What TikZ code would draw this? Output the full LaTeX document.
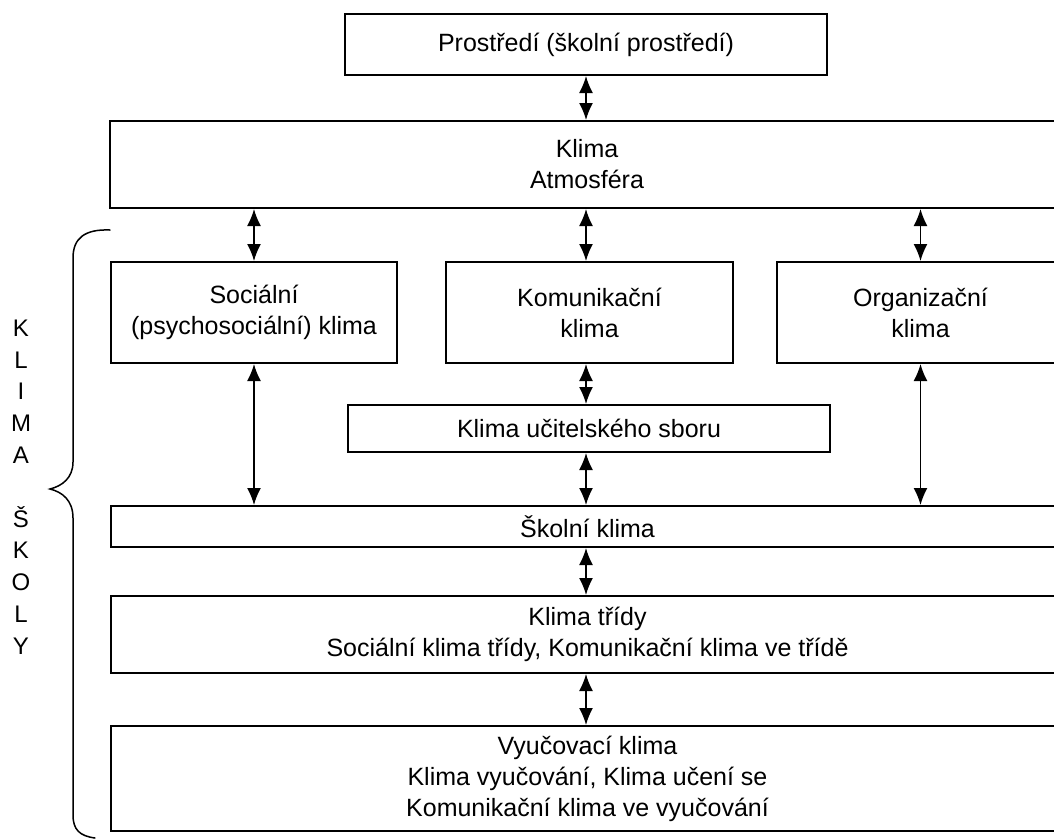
\documentclass[tikz,border=0pt]{standalone}
\usepackage{fontspec}
\setmainfont{Liberation Sans}
\usetikzlibrary{arrows.meta}
\begin{document}
\begin{tikzpicture}[x=1pt,y=-1pt,
  box/.style={draw, line width=2pt, inner sep=0pt, align=center,
    font=\fontsize{25}{31}\selectfont},
  dbl/.style={line width=1.6pt,
    {Latex[length=17pt,width=14pt]}-{Latex[length=17pt,width=14pt]}},
  brace/.style={line width=1.5pt, line cap=round},
  side/.style={align=center, inner sep=0pt, font=\fontsize{24}{31.8}\selectfont}
]
\clip (0,0) rectangle (1054,838);
\fill[white] (0,0) rectangle (1054,838);

% boxes
\node[box, minimum width=482pt, minimum height=61pt] (prostr) at (586,44.5) {Prostředí (školní prostředí)};
\node[box, minimum width=954pt, minimum height=87pt] (klima) at (587,164.5) {Klima\\Atmosféra};
\node[box, minimum width=286pt, minimum height=101pt] (soc) at (254,312.5) {Sociální\\(psychosociální) klima};
\node[box, minimum width=287pt, minimum height=101pt] (kom) at (589.5,312.5) {Komunikační\\klima};
\node[box, minimum width=287pt, minimum height=101pt] (org) at (920.5,312.5) {Organizační\\klima};
\node[box, minimum width=482pt, minimum height=47pt] (sbor) at (589,428.5) {Klima učitelského sboru};
\node[box, minimum width=953pt, minimum height=41pt] (skol) at (587.5,526.5) {Školní klima};
\node[box, minimum width=953pt, minimum height=77pt] (trida) at (587.5,634.5) {Klima třídy\\Sociální klima třídy, Komunikační klima ve třídě};
\node[box, minimum width=953pt, minimum height=105pt] (vyuc) at (587.5,778.5) {Vyučovací klima\\Klima vyučování, Klima učení se\\Komunikační klima ve vyučování};

% connectors
\draw[dbl] (prostr.south) -- (prostr.south |- klima.north);
\draw[dbl] (soc.north |- klima.south) -- (soc.north);
\draw[dbl] (prostr.south |- klima.south) -- (prostr.south |- kom.north);
\draw[dbl] (org.north |- klima.south) -- (org.north);
\draw[dbl] (soc.south) -- (soc.south |- skol.north);
\draw[dbl] (prostr.south |- kom.south) -- (prostr.south |- sbor.north);
\draw[dbl] (prostr.south |- sbor.south) -- (prostr.south |- skol.north);
\draw[dbl] (org.south) -- (org.south |- skol.north);
\draw[dbl] (prostr.south |- skol.south) -- (prostr.south |- trida.north);
\draw[dbl] (prostr.south |- trida.south) -- (prostr.south |- vyuc.north);

% brace
\draw[brace] (110,230) .. controls (85,229) and (73,238) .. (73,258)
  -- (73,462) .. controls (73,478) and (62,486) .. (50,489)
  .. controls (62,492) and (73,500) .. (73,518)
  -- (73,815) .. controls (73,830) and (80,836) .. (95,838);

% side label
\node[side] (kl) at (21,487) {K\\L\\I\\M\\A\\\mbox{}\\Š\\K\\O\\L\\Y};
\end{tikzpicture}
\end{document}
